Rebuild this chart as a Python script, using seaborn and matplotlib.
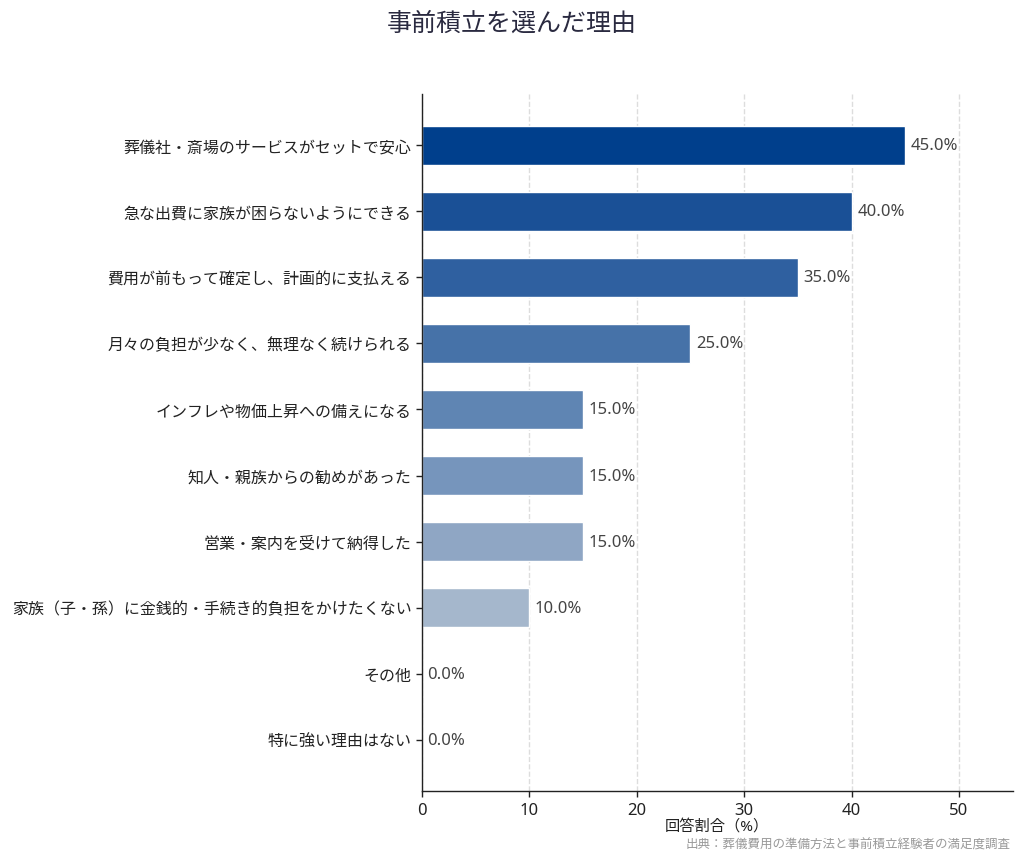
import numpy as np
import pandas as pd
import seaborn as sns
import matplotlib.pyplot as plt

## data
reasons = ["葬儀社・斎場のサービスがセットで安心",
           "急な出費に家族が困らないようにできる",
           "費用が前もって確定し、計画的に支払える",
           "月々の負担が少なく、無理なく続けられる",
           "インフレや物価上昇への備えになる",
           "知人・親族からの勧めがあった",
           "営業・案内を受けて納得した",
           "家族（子・孫）に金銭的・手続き的負担をかけたくない",
           "その他",
           "特に強い理由はない"]
shares = [45.0, 40.0, 35.0, 25.0, 15.0, 15.0, 15.0, 10.0, 0.0, 0.0]
colors = ["#003f8c", "#1a5096", "#2f60a0", "#4672a8", "#5f85b3",
          "#7695bc", "#8fa6c4", "#a5b7cc", "#b8c6d6", "#c6d1de"]

df = pd.DataFrame({"reason": reasons, "share": shares})

## plot
sns.set_style("white")
plt.rcParams["font.family"] = ["Noto Sans", "Noto Sans CJK JP", "DejaVu Sans"]
plt.rcParams["font.size"] = 10

fig = plt.figure(figsize=(10.24, 8.62), dpi=100)
plt.subplots_adjust(left=0.412, right=0.989, bottom=0.081, top=0.89)
ax = fig.add_subplot(1, 1, 1)
ax.set_axisbelow(True)

sns.barplot(data=df, x="share", y="reason", hue="reason", palette=colors,
            orient="h", width=0.6, legend=False, ax=ax, saturation=1)

for c in ax.containers:
    ax.bar_label(c, fmt="%.1f%%", padding=4, fontsize=12, color="#444444")

ax.set_xlim(0, 55)
ax.set_ylim(9.78, -0.78)
ax.set_xticks([0, 10, 20, 30, 40, 50])
ax.grid(axis="x", color="#dddddd", ls="--", lw=1)
ax.grid(axis="y", visible=False)
sns.despine(ax=ax)
for s in ["left", "bottom"]:
    ax.spines[s].set_color("#222222")
    ax.spines[s].set_linewidth(1.0)
ax.tick_params(axis="both", length=4, width=1, color="#222222",
               labelcolor="#222222", left=True, bottom=True)
ax.tick_params(axis="y", labelsize=11.5)
ax.tick_params(axis="x", labelsize=12)

ax.set_xlabel("回答割合（%）", fontsize=11, color="#222222", labelpad=1)
ax.set_ylabel("")
fig.suptitle("事前積立を選んだ理由", fontsize=18, color="#2a2a40", y=0.987)
fig.text(0.987, 0.012, "出典：葬儀費用の準備方法と事前積立経験者の満足度調査",
         ha="right", va="bottom", fontsize=9, color="#999999")

plt.savefig("out.png", dpi=100)
